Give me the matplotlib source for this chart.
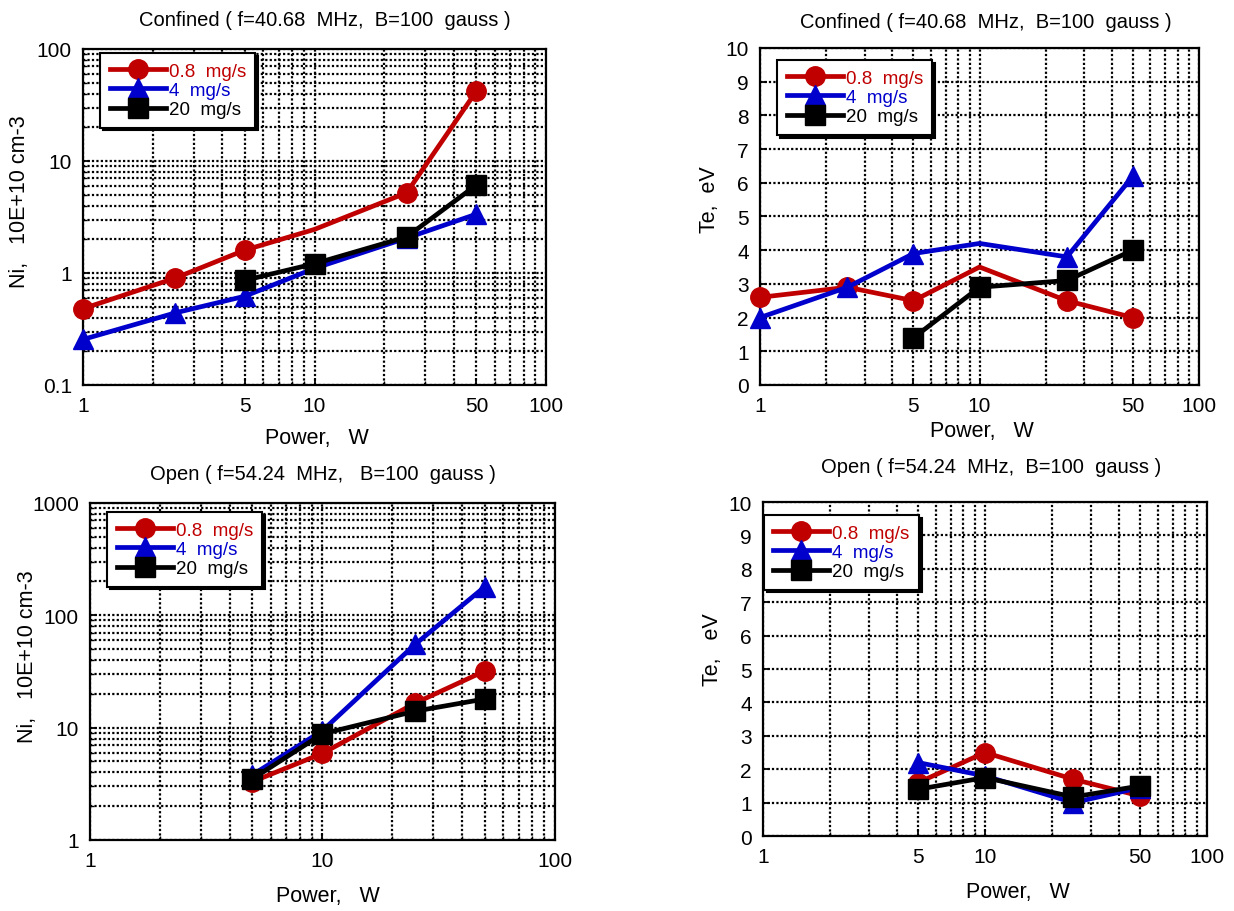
import matplotlib.pyplot as plt
from matplotlib.ticker import LogLocator, NullFormatter, FixedLocator

plt.rcParams['font.family'] = ['Liberation Sans', 'DejaVu Sans']

# power, W
power_conf = [1, 2.5, 5, 10, 25, 50]
power_conf_20 = [5, 10, 25, 50]
power_open = [5, 10, 25, 50]

# confined: ion density (10E+10 cm-3) and electron temperature (eV)
ni_conf_08 = [0.48, 0.90, 1.6, 2.45, 5.2, 42]
ni_conf_4 = [0.255, 0.44, 0.62, 1.1, 2.05, 3.35]
ni_conf_20 = [0.86, 1.21, 2.1, 6.1]

te_conf_08 = [2.6, 2.9, 2.5, 3.5, 2.5, 2.0]
te_conf_4 = [2.0, 2.9, 3.9, 4.2, 3.8, 6.2]
te_conf_20 = [1.4, 2.9, 3.1, 4.0]

# open
ni_open_08 = [3.3, 5.9, 16.5, 32]
ni_open_4 = [3.8, 9.4, 55, 180]
ni_open_20 = [3.5, 8.8, 14, 18]

te_open_08 = [1.6, 2.5, 1.7, 1.2]
te_open_4 = [2.2, 1.8, 1.0, 1.45]
te_open_20 = [1.4, 1.75, 1.17, 1.5]

labels = ['0.8  mg/s', '4  mg/s', '20  mg/s']
colors = ['#c00000', '#0000cc', 'black']
markers = ['o', '^', 's']

title_conf = 'Confined ( f=40.68  MHz,  B=100  gauss )'
title_open = 'Open ( f=54.24  MHz,   B=100  gauss )'
title_open2 = 'Open ( f=54.24  MHz,  B=100  gauss )'

fig = plt.figure(figsize=(12.34, 9.12), dpi=100)


def draw_panel(rect, title, series, ylabel, log_y, ylim, xticks,
               title_xy, xlab_xy, ylab_xy, leg_xy):
    ax = fig.add_axes(rect)
    for (xs, ys, every), lab, c, m in zip(series, labels, colors, markers):
        ax.plot(xs, ys, color=c, marker=m, lw=3.4, ms=14, label=lab,
                markevery=every, zorder=3, clip_on=False)
    ax.set_xscale('log')
    ax.set_xlim(1, 100)
    ax.set_xticks(xticks)
    ax.set_xticklabels([str(t) for t in xticks])
    ax.xaxis.set_minor_locator(LogLocator(base=10, subs=range(2, 10)))
    ax.xaxis.set_minor_formatter(NullFormatter())
    if log_y:
        ax.set_yscale('log')
        ax.set_ylim(*ylim)
        ax.yaxis.set_minor_locator(LogLocator(base=10, subs=range(2, 10)))
        ax.yaxis.set_minor_formatter(NullFormatter())
        ax.set_yticklabels([('%g' % t) for t in ax.get_yticks()])
        ax.set_ylim(*ylim)
    else:
        ax.set_ylim(*ylim)
        ax.yaxis.set_major_locator(FixedLocator(range(0, 11)))
    ax.grid(True, which='both', color='black', lw=1.6, linestyle=(0, (1, 1)), zorder=1)
    ax.set_axisbelow(True)
    ax.tick_params(which='both', direction='in', labelsize=15, pad=8)
    ax.tick_params(which='major', length=5, width=1.3)
    ax.tick_params(which='minor', length=3, width=1.0)
    for s in ax.spines.values():
        s.set_linewidth(1.6)
    ax.set_title(title, fontsize=14.5, x=title_xy[0], y=title_xy[1], va='center', pad=0)
    ax.set_xlabel('Power,   W', fontsize=15.5, va='center')
    ax.xaxis.set_label_coords(*xlab_xy)
    ax.set_ylabel(ylabel, fontsize=15.5, va='center')
    ax.yaxis.set_label_coords(*ylab_xy)
    leg = ax.legend(loc='upper left', bbox_to_anchor=leg_xy, borderaxespad=0,
                    fontsize=13.5, labelcolor='linecolor', handlelength=3.0,
                    handletextpad=0.15, labelspacing=0.12, borderpad=0.5,
                    fancybox=False, framealpha=1, edgecolor='black',
                    shadow={'color': 'black', 'alpha': 1})
    leg.get_frame().set_linewidth(1.5)
    leg.set_zorder(5)
    return ax


skip10 = [0, 1, 2, 4, 5]

draw_panel([0.0673, 0.5768, 0.3752, 0.3684], title_conf,
           [(power_conf, ni_conf_08, skip10), (power_conf, ni_conf_4, skip10),
            (power_conf_20, ni_conf_20, None)],
           'Ni,   10E+10 cm-3', True, (0.1, 100), [1, 5, 10, 50, 100],
           (0.523, 1.089), (0.505, -0.155), (-0.138, 0.548), (0.037, 0.988))

draw_panel([0.6159, 0.5768, 0.3558, 0.3695], title_conf,
           [(power_conf, te_conf_08, skip10), (power_conf, te_conf_4, skip10),
            (power_conf_20, te_conf_20, None)],
           'Te,  eV', False, (0, 10), [1, 5, 10, 50, 100],
           (0.515, 1.080), (0.506, -0.136), (-0.116, 0.552), (0.039, 0.964))

draw_panel([0.0729, 0.0779, 0.3768, 0.3695], title_open,
           [(power_open, ni_open_08, None), (power_open, ni_open_4, None),
            (power_open, ni_open_20, None)],
           'Ni,   10E+10 cm-3', True, (1, 1000), [1, 10, 100],
           (0.5, 1.086), (0.512, -0.166), (-0.135, 0.546), (0.037, 0.973))

draw_panel([0.6183, 0.0822, 0.3598, 0.3662], title_open2,
           [(power_open, te_open_08, None), (power_open, te_open_4, None),
            (power_open, te_open_20, None)],
           'Te,   eV', False, (0, 10), [1, 5, 10, 50, 100],
           (0.514, 1.105), (0.574, -0.165), (-0.113, 0.56), (0.002, 0.961))

fig.savefig('out.png', dpi=100)
